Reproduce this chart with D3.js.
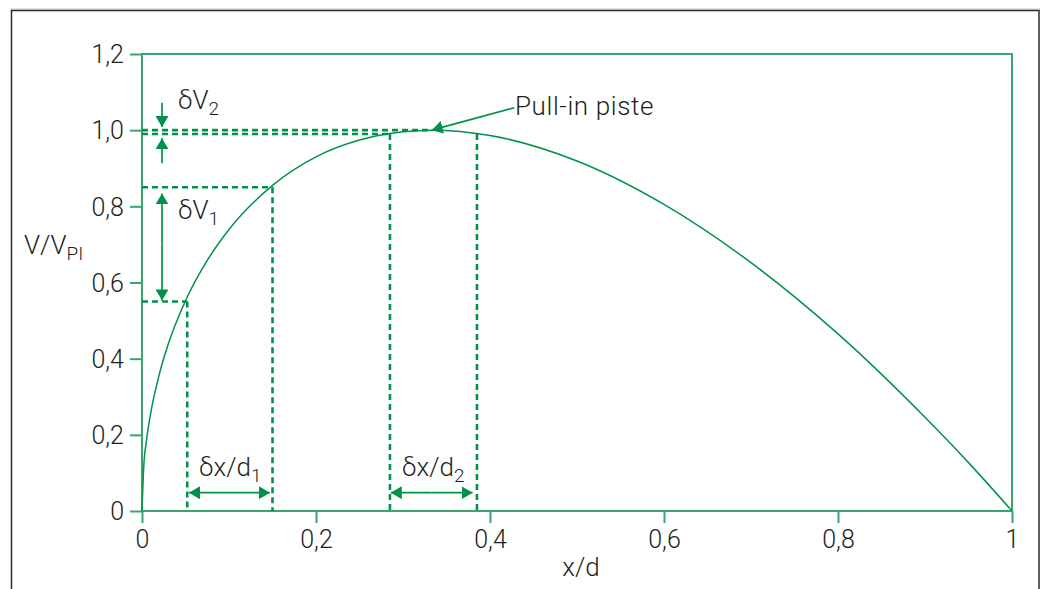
<!DOCTYPE html>
<html>
<head>
<meta charset="utf-8">
<script src="https://cdn.jsdelivr.net/npm/d3@7"></script>
<style>
  body { margin: 0; background: #fff; }
  svg text { font-family: Roboto, "Open Sans", "Liberation Sans", sans-serif; font-weight: 300; fill: #231f20; }
</style>
</head>
<body>
<svg id="chart"></svg>
<script>

// values
const curveX = [0, 0.002, 0.005, 0.01, 0.02, 0.03, 0.05, 0.075, 0.1, 0.15, 0.2, 0.25, 0.3, 0.333, 0.4, 0.5, 0.6, 0.7, 0.8, 0.9, 0.95, 1];
const curveY = [0, 0.116, 0.183, 0.257, 0.36, 0.437, 0.552, 0.658, 0.739, 0.855, 0.93, 0.974, 0.996, 1.0, 0.986, 0.919, 0.805, 0.652, 0.465, 0.246, 0.127, 0];

const xTicks = [0, 0.2, 0.4, 0.6, 0.8, 1];
const yTicks = [0, 0.2, 0.4, 0.6, 0.8, 1.0, 1.2];

// dashed guides: [x, y] corner on the curve, drawn to both axes
const guideH = [[0.333, 1.0], [0.285, 0.99], [0.15, 0.85], [0.052, 0.55]];
const guideV = [[0.285, 0.99], [0.385, 0.99], [0.15, 0.85], [0.052, 0.55]];

// arrows: [x1, y1, x2, y2] arrowhead at end (x2,y2)
const arrows = [
  [0.023, 1.072, 0.023, 1.008],
  [0.023, 0.913, 0.023, 0.979],
  [0.023, 0.7, 0.023, 0.834],
  [0.023, 0.7, 0.023, 0.553],
  [0.1, 0.048, 0.054, 0.048],
  [0.1, 0.048, 0.147, 0.048],
  [0.333, 0.048, 0.286, 0.048],
  [0.333, 0.048, 0.38, 0.048],
  [0.428, 1.059, 0.333, 1.0]
];

const width = 1046, height = 589;
const margin = { top: 54, bottom: 78, left: 142, right: 34 };

const svg = d3.select('#chart')
  .attr('width', width)
  .attr('height', height);

const frameCol = '#3aa56f';
const markCol = '#00924a';

// outer frame of the figure
svg.append('line')
  .attr('x1', 10).attr('x2', 1040).attr('y1', 9).attr('y2', 9)
  .attr('stroke', '#c8c8c8').attr('stroke-width', 1);
svg.append('rect')
  .attr('x', 11.5).attr('y', 10.5)
  .attr('width', 1027.5).attr('height', 600)
  .attr('fill', 'none')
  .attr('stroke', '#2b2b2b').attr('stroke-width', 1.5);

const x = d3.scaleLinear().domain([0, 1]).range([margin.left, width - margin.right]);
const y = d3.scaleLinear().domain([0, 1.2]).range([height - margin.bottom, margin.top]);

// plot box
svg.append('rect')
  .attr('x', x(0)).attr('y', y(1.2))
  .attr('width', x(1) - x(0)).attr('height', y(0) - y(1.2))
  .attr('fill', 'none')
  .attr('stroke', frameCol).attr('stroke-width', 2);

// axes
const xAxis = d3.axisBottom(x).tickValues(xTicks).tickSize(12).tickSizeOuter(0)
  .tickFormat(d => d3.format('.1f')(d).replace('.', ',').replace(/^1,0$/, '1').replace(/^0,0$/, '0'));
const yAxis = d3.axisLeft(y).tickValues(yTicks).tickSize(12).tickSizeOuter(0)
  .tickFormat(d => d === 0 ? '0' : d3.format('.1f')(d).replace('.', ','));

const xg = svg.append('g').attr('transform', `translate(0,${y(0)})`).call(xAxis);
const yg = svg.append('g').attr('transform', `translate(${x(0)},0)`).call(yAxis);

[xg, yg].forEach(g => {
  g.select('.domain').remove();
  g.selectAll('.tick line').attr('stroke', frameCol).attr('stroke-width', 2);
  g.selectAll('.tick text').attr('font-size', 25).attr('fill', '#231f20');
});
xg.selectAll('.tick text').attr('y', 19).attr('dy', '0.71em');
yg.selectAll('.tick text').attr('x', -18).attr('dy', '0.35em');

// dashed guides
const dash = '6,4';
svg.selectAll('.gh').data(guideH).enter().append('line')
  .attr('x1', x(0)).attr('x2', d => x(d[0]))
  .attr('y1', d => y(d[1])).attr('y2', d => y(d[1]))
  .attr('stroke', markCol).attr('stroke-width', 2.6).attr('stroke-dasharray', dash);
svg.selectAll('.gv').data(guideV).enter().append('line')
  .attr('x1', d => x(d[0])).attr('x2', d => x(d[0]))
  .attr('y1', d => y(d[1])).attr('y2', y(0))
  .attr('stroke', markCol).attr('stroke-width', 2.6).attr('stroke-dasharray', dash);

// curve
const line = d3.line()
  .x(d => x(d[0]))
  .y(d => y(d[1]))
  .curve(d3.curveMonotoneX);
svg.append('path')
  .datum(curveX.map((v, i) => [v, curveY[i]]))
  .attr('d', line)
  .attr('fill', 'none')
  .attr('stroke', markCol)
  .attr('stroke-width', 1.5);

// arrows
svg.append('defs').append('marker')
  .attr('id', 'head')
  .attr('viewBox', '0 0 11 13')
  .attr('refX', 11).attr('refY', 6.5)
  .attr('markerWidth', 11).attr('markerHeight', 13)
  .attr('markerUnits', 'userSpaceOnUse')
  .attr('orient', 'auto')
  .append('path')
  .attr('d', 'M0,0L11,6.5L0,13Z')
  .attr('fill', markCol);

svg.selectAll('.arr').data(arrows).enter().append('line')
  .attr('x1', d => x(d[0])).attr('y1', d => y(d[1]))
  .attr('x2', d => x(d[2])).attr('y2', d => y(d[3]))
  .attr('stroke', markCol).attr('stroke-width', 1.7)
  .attr('marker-end', 'url(#head)');

// labels
function label(px, py, main, sub, anchor) {
  const t = svg.append('text')
    .attr('x', px).attr('y', py)
    .attr('font-size', 26)
    .attr('text-anchor', anchor || 'start');
  t.append('tspan').text(main);
  if (sub) {
    t.append('tspan').attr('font-size', 19).attr('dy', 6).text(sub);
  }
  return t;
}

label(178, 109, 'δV', '2');
label(178, 219, 'δV', '1');
label(199, 476, 'δx/d', '1');
label(402, 476, 'δx/d', '2');
label(515, 115, 'Pull-in piste').attr('letter-spacing', 0.6);
label(24, 254, 'V/V', 'PI');
label(581, 576, 'x/d', null, 'middle');

</script>
</body>
</html>
